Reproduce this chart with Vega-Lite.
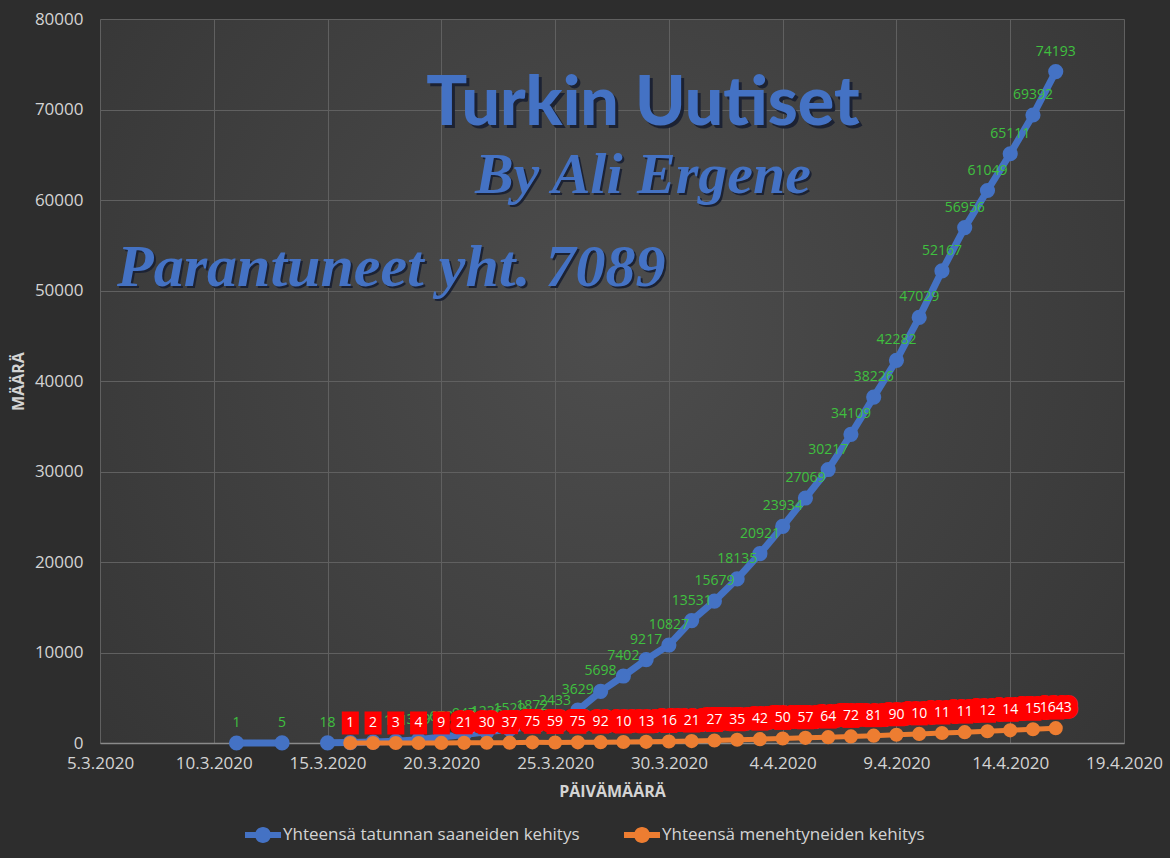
{
  "$schema": "https://vega.github.io/schema/vega-lite/v6.json",
  "width": 1024,
  "height": 724,
  "autosize": {"type": "none"},
  "padding": {"left": 100, "top": 19, "right": 46, "bottom": 115},
  "background": "#2d2d2d",
  "config": {
    "font": "Open Sans",
    "view": {
      "stroke": null,
      "fill": {
        "gradient": "radial",
        "x1": 0.5, "y1": 0.45, "r1": 0,
        "x2": 0.5, "y2": 0.45, "r2": 0.75,
        "stops": [
          {"offset": 0, "color": "#4d4d4d"},
          {"offset": 1, "color": "#323232"}
        ]
      }
    },
    "axis": {
      "labelColor": "#d4d4d4",
      "titleColor": "#d4d4d4",
      "labelFontSize": 17,
      "titleFontSize": 16,
      "titleFontWeight": "bold",
      "ticks": false,
      "gridColor": "#606060",
      "gridWidth": 1,
      "domainColor": "#8a8a8a",
      "domainWidth": 1.5
    },
    "legend": {
      "labelColor": "#d4d4d4",
      "labelFontSize": 17,
      "labelLimit": 400
    }
  },
  "datasets": {
    "cases": [
      {"date": "2020/03/11", "value": 1},
      {"date": "2020/03/13", "value": 5},
      {"date": "2020/03/14", "value": null},
      {"date": "2020/03/15", "value": 18},
      {"date": "2020/03/16", "value": 47},
      {"date": "2020/03/17", "value": 98},
      {"date": "2020/03/18", "value": 191},
      {"date": "2020/03/19", "value": 359},
      {"date": "2020/03/20", "value": 670},
      {"date": "2020/03/21", "value": 947},
      {"date": "2020/03/22", "value": 1236},
      {"date": "2020/03/23", "value": 1529},
      {"date": "2020/03/24", "value": 1872},
      {"date": "2020/03/25", "value": 2433},
      {"date": "2020/03/26", "value": 3629},
      {"date": "2020/03/27", "value": 5698},
      {"date": "2020/03/28", "value": 7402},
      {"date": "2020/03/29", "value": 9217},
      {"date": "2020/03/30", "value": 10827},
      {"date": "2020/03/31", "value": 13531},
      {"date": "2020/04/01", "value": 15679},
      {"date": "2020/04/02", "value": 18135},
      {"date": "2020/04/03", "value": 20921},
      {"date": "2020/04/04", "value": 23934},
      {"date": "2020/04/05", "value": 27069},
      {"date": "2020/04/06", "value": 30217},
      {"date": "2020/04/07", "value": 34109},
      {"date": "2020/04/08", "value": 38226},
      {"date": "2020/04/09", "value": 42282},
      {"date": "2020/04/10", "value": 47029},
      {"date": "2020/04/11", "value": 52167},
      {"date": "2020/04/12", "value": 56956},
      {"date": "2020/04/13", "value": 61049},
      {"date": "2020/04/14", "value": 65111},
      {"date": "2020/04/15", "value": 69392},
      {"date": "2020/04/16", "value": 74193}
    ],
    "deaths": [
      {"date": "2020/03/16", "value": 1},
      {"date": "2020/03/17", "value": 2},
      {"date": "2020/03/18", "value": 3},
      {"date": "2020/03/19", "value": 4},
      {"date": "2020/03/20", "value": 9},
      {"date": "2020/03/21", "value": 21},
      {"date": "2020/03/22", "value": 30},
      {"date": "2020/03/23", "value": 37},
      {"date": "2020/03/24", "value": 75},
      {"date": "2020/03/25", "value": 59},
      {"date": "2020/03/26", "value": 75},
      {"date": "2020/03/27", "value": 92},
      {"date": "2020/03/28", "value": 108},
      {"date": "2020/03/29", "value": 131},
      {"date": "2020/03/30", "value": 168},
      {"date": "2020/03/31", "value": 214},
      {"date": "2020/04/01", "value": 277},
      {"date": "2020/04/02", "value": 356},
      {"date": "2020/04/03", "value": 425},
      {"date": "2020/04/04", "value": 501},
      {"date": "2020/04/05", "value": 574},
      {"date": "2020/04/06", "value": 649},
      {"date": "2020/04/07", "value": 725},
      {"date": "2020/04/08", "value": 812},
      {"date": "2020/04/09", "value": 908},
      {"date": "2020/04/10", "value": 1006},
      {"date": "2020/04/11", "value": 1101},
      {"date": "2020/04/12", "value": 1198},
      {"date": "2020/04/13", "value": 1296},
      {"date": "2020/04/14", "value": 1403},
      {"date": "2020/04/15", "value": 1518},
      {"date": "2020/04/16", "value": 1643}
    ]
  },
  "encoding": {
    "x": {
      "field": "date",
      "type": "temporal",
      "scale": {
        "domain": [
          {"year": 2020, "month": 3, "date": 5},
          {"year": 2020, "month": 4, "date": 19}
        ]
      },
      "axis": {
        "values": [
          {"year": 2020, "month": 3, "date": 5},
          {"year": 2020, "month": 3, "date": 10},
          {"year": 2020, "month": 3, "date": 15},
          {"year": 2020, "month": 3, "date": 20},
          {"year": 2020, "month": 3, "date": 25},
          {"year": 2020, "month": 3, "date": 30},
          {"year": 2020, "month": 4, "date": 4},
          {"year": 2020, "month": 4, "date": 9},
          {"year": 2020, "month": 4, "date": 14},
          {"year": 2020, "month": 4, "date": 19}
        ],
        "format": "%-d.%-m.%Y",
        "labelPadding": 12,
        "labelOverlap": false,
        "labelFlush": false,
        "title": "PÄIVÄMÄÄRÄ",
        "titlePadding": 12
      }
    },
    "y": {
      "field": "value",
      "type": "quantitative",
      "scale": {"domain": [0, 80000], "nice": false},
      "axis": {
        "values": [0, 10000, 20000, 30000, 40000, 50000, 60000, 70000, 80000],
        "format": "d",
        "domain": false,
        "labelPadding": 17,
        "title": "MÄÄRÄ",
        "titlePadding": 8
      }
    }
  },
  "layer": [
    {
      "data": {"name": "cases"},
      "mark": {
        "type": "line",
        "strokeWidth": 7,
        "invalid": "break-paths-filter-domains",
        "point": {"filled": true, "size": 230, "opacity": 1}
      },
      "encoding": {
        "color": {
          "datum": "Yhteensä tatunnan saaneiden kehitys",
          "type": "nominal",
          "scale": {
            "domain": ["Yhteensä tatunnan saaneiden kehitys", "Yhteensä menehtyneiden kehitys"],
            "range": ["#4472c4", "#ed7d31"]
          },
          "legend": {
            "title": null,
            "orient": "none",
            "legendX": 153,
            "legendY": 806,
            "direction": "horizontal",
            "symbolType": "M-1.8,-0.3L1.8,-0.3L1.8,0.3L-1.8,0.3Z M-0.8,0A0.8,0.8 0 1,1 0.8,0A0.8,0.8 0 1,1 -0.8,0Z",
            "symbolSize": 400,
            "symbolStrokeWidth": 0,
            "labelOffset": 10,
            "columnPadding": 44
          }
        }
      }
    },
    {
      "data": {"name": "cases"},
      "transform": [{"filter": "datum.value != null"}],
      "mark": {"type": "text", "dy": -20, "fontSize": 14, "color": "#3fc03f"},
      "encoding": {
        "text": {"field": "value", "type": "quantitative", "format": "d"}
      }
    },
    {
      "data": {"name": "deaths"},
      "mark": {
        "type": "line",
        "strokeWidth": 5,
        "point": {"filled": true, "size": 200, "opacity": 1}
      },
      "encoding": {
        "color": {"datum": "Yhteensä menehtyneiden kehitys", "type": "nominal"}
      }
    },
    {
      "data": {"name": "deaths"},
      "mark": {
        "type": "point",
        "shape": "M-0.74,-1L0.74,-1L0.74,1L-0.74,1Z",
        "size": 529,
        "filled": true,
        "opacity": 1,
        "fill": "#ff0000",
        "strokeWidth": 0,
        "yOffset": -20
      }
    },
    {
      "data": {"name": "deaths"},
      "transform": [{"filter": "datum.value >= 10"}],
      "mark": {
        "type": "text",
        "dy": -20,
        "fontSize": 14,
        "fill": "#ff0000",
        "stroke": "#ff0000",
        "strokeWidth": 14,
        "strokeJoin": "round"
      },
      "encoding": {
        "text": {"field": "value", "type": "quantitative", "format": "d"}
      }
    },
    {
      "data": {"name": "deaths"},
      "transform": [{"filter": "datum.value < 1600"}],
      "mark": {
        "type": "text",
        "dy": -20,
        "fontSize": 14,
        "fill": "#ffffff",
        "limit": 23,
        "ellipsis": "\u200b"
      },
      "encoding": {
        "text": {"field": "value", "type": "quantitative", "format": "d"}
      }
    },
    {
      "data": {"name": "deaths"},
      "transform": [{"filter": "datum.value >= 1600"}],
      "mark": {"type": "text", "dy": -20, "fontSize": 14, "fill": "#ffffff"},
      "encoding": {
        "text": {"field": "value", "type": "quantitative", "format": "d"}
      }
    },
    {
      "data": {"values": [{"date": "2020/03/28 20:40", "value": 70500, "note": "Turkin Uutiset"}]},
      "mark": {"type": "text", "font": "Lato", "fontWeight": 900, "fontSize": 68, "fill": "#1c2233", "dx": 3, "dy": 3},
      "encoding": {"text": {"field": "note"}}
    },
    {
      "data": {"values": [{"date": "2020/03/28 20:40", "value": 70500, "note": "Turkin Uutiset"}]},
      "mark": {"type": "text", "font": "Lato", "fontWeight": 900, "fontSize": 68, "fill": "#4472c4"},
      "encoding": {"text": {"field": "note"}}
    },
    {
      "data": {"values": [{"date": "2020/03/28 20:40", "value": 62600, "note": "By Ali Ergene"}]},
      "mark": {"type": "text", "font": "Liberation Serif", "fontStyle": "italic", "fontWeight": "bold", "fontSize": 58, "fill": "#1c2233", "dx": 2, "dy": 2},
      "encoding": {"text": {"field": "note"}}
    },
    {
      "data": {"values": [{"date": "2020/03/28 20:40", "value": 62600, "note": "By Ali Ergene"}]},
      "mark": {"type": "text", "font": "Liberation Serif", "fontStyle": "italic", "fontWeight": "bold", "fontSize": 58, "fill": "#4472c4"},
      "encoding": {"text": {"field": "note"}}
    },
    {
      "data": {"values": [{"date": "2020/03/05 18:00", "value": 52500, "note": "Parantuneet yht.  7089"}]},
      "mark": {"type": "text", "align": "left", "font": "Liberation Serif", "fontStyle": "italic", "fontWeight": "bold", "fontSize": 60, "fill": "#1c2233", "dx": 2, "dy": 2},
      "encoding": {"text": {"field": "note"}}
    },
    {
      "data": {"values": [{"date": "2020/03/05 18:00", "value": 52500, "note": "Parantuneet yht.  7089"}]},
      "mark": {"type": "text", "align": "left", "font": "Liberation Serif", "fontStyle": "italic", "fontWeight": "bold", "fontSize": 60, "fill": "#4472c4"},
      "encoding": {"text": {"field": "note"}}
    }
  ]
}
